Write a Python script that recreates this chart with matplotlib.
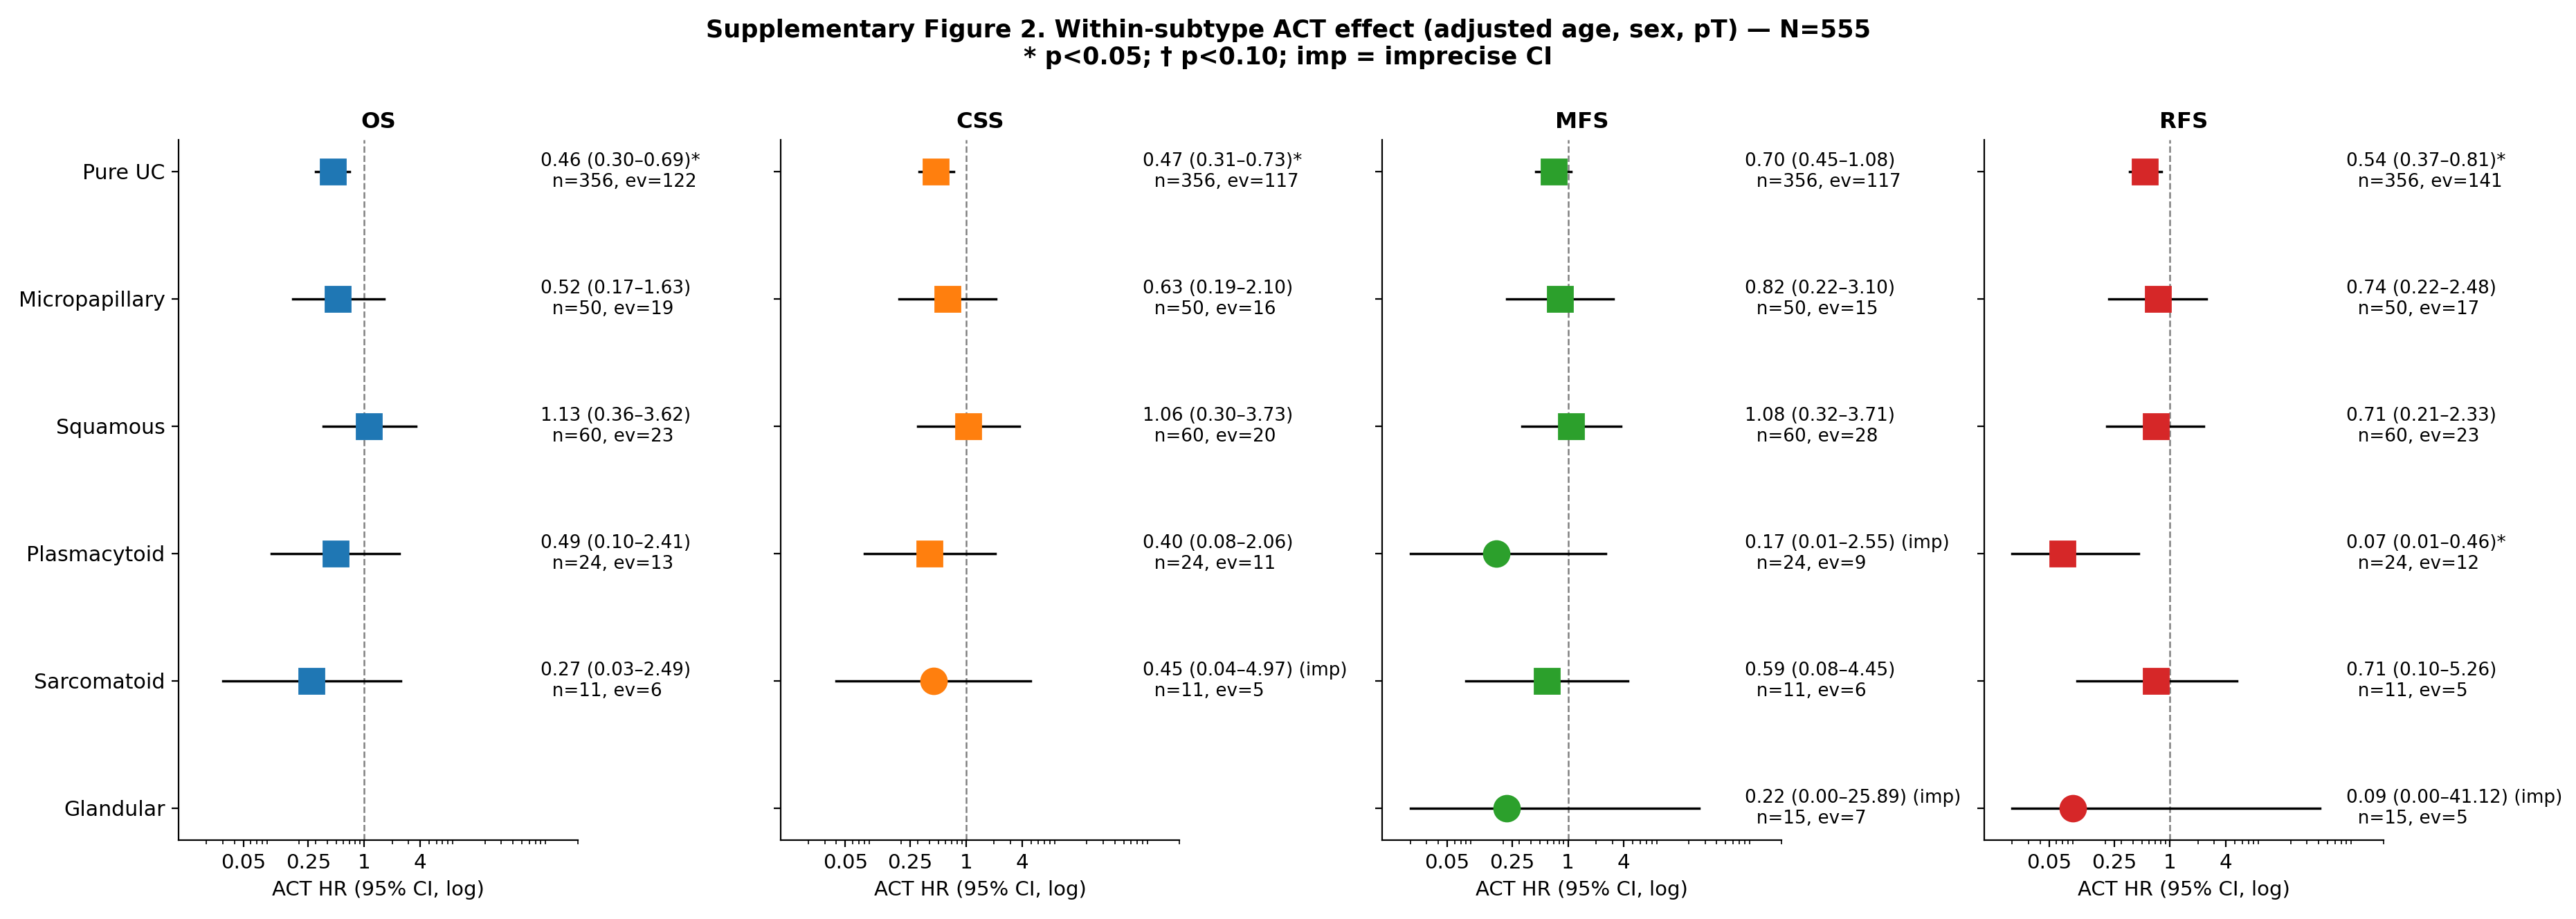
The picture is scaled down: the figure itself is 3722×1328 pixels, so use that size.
import numpy as np
import matplotlib
matplotlib.use('Agg')
import matplotlib.pyplot as plt

subtypes = ['Pure UC', 'Micropapillary', 'Squamous', 'Plasmacytoid', 'Sarcomatoid', 'Glandular']
outcomes = ['OS', 'CSS', 'MFS', 'RFS']
colors = ['#1f77b4', '#ff7f0e', '#2ca02c', '#d62728']

# HR, lower CI, upper CI per subtype (nan = not estimable)
nan = np.nan
hr_os = [0.46, 0.52, 1.13, 0.49, 0.27, nan]
lo_os = [0.30, 0.17, 0.36, 0.10, 0.03, nan]
hi_os = [0.69, 1.63, 3.62, 2.41, 2.49, nan]
n_os = [356, 50, 60, 24, 11, None]
ev_os = [122, 19, 23, 13, 6, None]
flag_os = ['*', '', '', '', '', '']

hr_css = [0.47, 0.63, 1.06, 0.40, 0.45, nan]
lo_css = [0.31, 0.19, 0.30, 0.08, 0.04, nan]
hi_css = [0.73, 2.10, 3.73, 2.06, 4.97, nan]
n_css = [356, 50, 60, 24, 11, None]
ev_css = [117, 16, 20, 11, 5, None]
flag_css = ['*', '', '', '', ' (imp)', '']

hr_mfs = [0.70, 0.82, 1.08, 0.17, 0.59, 0.22]
lo_mfs = [0.45, 0.22, 0.32, 0.01, 0.08, 0.00]
hi_mfs = [1.08, 3.10, 3.71, 2.55, 4.45, 25.89]
n_mfs = [356, 50, 60, 24, 11, 15]
ev_mfs = [117, 15, 28, 9, 6, 7]
flag_mfs = ['', '', '', ' (imp)', '', ' (imp)']

hr_rfs = [0.54, 0.74, 0.71, 0.07, 0.71, 0.09]
lo_rfs = [0.37, 0.22, 0.21, 0.01, 0.10, 0.00]
hi_rfs = [0.81, 2.48, 2.33, 0.46, 5.26, 41.12]
n_rfs = [356, 50, 60, 24, 11, 15]
ev_rfs = [141, 17, 23, 12, 5, 5]
flag_rfs = ['*', '', '', '*', '', ' (imp)']

xticks = [0.05, 0.25, 1, 4]
xticklabels = ['0.05', '0.25', '1', '4']

panels = [
    (hr_os, lo_os, hi_os, n_os, ev_os, flag_os),
    (hr_css, lo_css, hi_css, n_css, ev_css, flag_css),
    (hr_mfs, lo_mfs, hi_mfs, n_mfs, ev_mfs, flag_mfs),
    (hr_rfs, lo_rfs, hi_rfs, n_rfs, ev_rfs, flag_rfs),
]

fig, axes = plt.subplots(1, 4, figsize=(18.615, 6.64), dpi=200, sharey=True)
fig.subplots_adjust(left=0.0693, right=0.925, top=0.848, bottom=0.086, wspace=0.508)

y = np.arange(len(subtypes))
for k, ax in enumerate(axes):
    hr, lo, hi, n, ev, flag = panels[k]
    for i in range(len(subtypes)):
        if np.isnan(hr[i]):
            continue
        lo_c = max(lo[i], 0.02)  # clip tiny lower bounds
        ax.plot([lo_c, hi[i]], [y[i], y[i]], color='black', lw=1.25, zorder=2)
        mk = 'o' if 'imp' in flag[i] else 's'
        ax.plot(hr[i], y[i], marker=mk, ms=13.3, color=colors[k], mec=colors[k], ls='none', zorder=3)
        txt = '%.2f (%.2f\u2013%.2f)%s\n  n=%d, ev=%d' % (hr[i], lo[i], hi[i], flag[i], n[i], ev[i])
        ax.text(80, y[i], txt, fontsize=9.45, va='center', ha='left')
    ax.axvline(1, color='gray', ls='--', lw=0.9, zorder=1)
    ax.set_xscale('log')
    ax.set_xlim(0.01, 200)
    ax.set_xticks(xticks)
    ax.set_xticklabels(xticklabels, fontsize=10.6)
    ax.set_xlabel('ACT HR (95% CI, log)', fontsize=10.5)
    ax.set_title(outcomes[k], fontsize=11.6, fontweight='bold')
    ax.spines['top'].set_visible(False)
    ax.spines['right'].set_visible(False)

axes[0].set_yticks(y)
axes[0].set_yticklabels(subtypes, fontsize=10.8)
axes[0].set_ylim(len(subtypes) - 1 + 0.25, -0.25)

fig.suptitle('Supplementary Figure 2. Within-subtype ACT effect (adjusted age, sex, pT) \u2014 N=555\n'
             '* p<0.05; \u2020 p<0.10; imp = imprecise CI', fontsize=12.6, fontweight='bold')

fig.savefig('out.png', dpi=200)
